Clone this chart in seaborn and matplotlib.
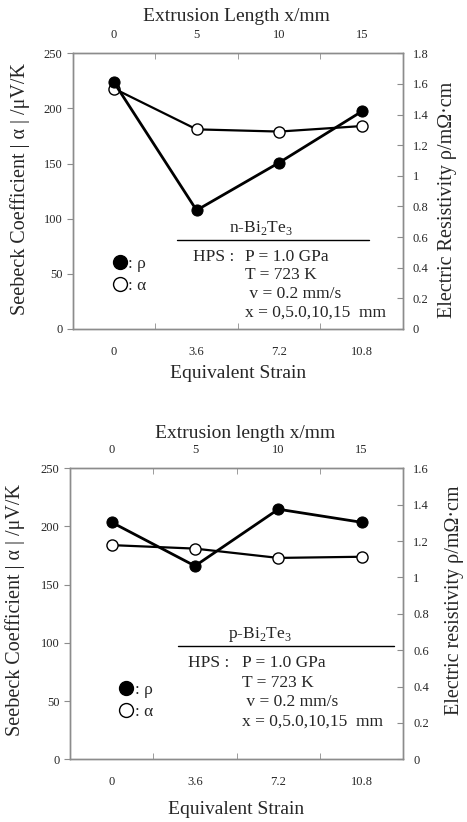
import matplotlib
matplotlib.use('Agg')
import matplotlib.pyplot as plt
from matplotlib.lines import Line2D
from matplotlib.ticker import FixedLocator, FuncFormatter
import seaborn as sns
import pandas as pd
import numpy as np

# shared categories
extrusion_mm = ['0', '5', '10', '15']
strain = ['0', '3.6', '7.2', '10.8']

# n-type panel
n_alpha = [218, 181, 179, 184]        # Seebeck |alpha| uV/K (left axis)
n_rho = [1.61, 0.775, 1.086, 1.42]    # resistivity mOhm cm (right axis)

# p-type panel
p_alpha = [184, 181, 173, 174]
p_rho = [1.303, 1.063, 1.375, 1.303]

sns.set_style('ticks')
plt.rcParams['font.family'] = ['Liberation Serif', 'DejaVu Serif']
plt.rcParams['mathtext.fontset'] = 'custom'
plt.rcParams['mathtext.rm'] = 'Liberation Serif'

SPINE = '#8c8c8c'
TICK_FS = 9
LABEL_FS = 14
NOTE_FS = 12.5


def draw_panel(ax, alpha, rho, rho_max, top_label, right_label, material,
               lab):
    x = np.arange(len(strain))
    df = pd.DataFrame({'x': x, 'alpha': alpha, 'rho': rho})
    ax2 = ax.twinx()

    sns.lineplot(data=df, x='x', y='alpha', ax=ax, color='black', lw=1.6,
                 marker='o', markersize=8, markerfacecolor='white',
                 markeredgecolor='black', markeredgewidth=1.0, zorder=3)
    sns.lineplot(data=df, x='x', y='rho', ax=ax2, color='black', lw=2.0,
                 marker='o', markersize=8, markerfacecolor='black',
                 markeredgecolor='black', zorder=3)

    ax.set_xlim(-0.5, len(strain) - 0.5)
    ax.set_ylim(0, 250)
    ax.set_yticks(np.arange(0, 251, 50))
    ax2.set_ylim(0, rho_max)
    ax2.set_yticks(np.arange(0, rho_max + 0.01, 0.2))
    ax2.yaxis.set_major_formatter(FuncFormatter(lambda v, p: f'{v:g}'))

    # categories at centres, tick marks between categories
    ax.set_xticks(x)
    ax.set_xticklabels(strain)
    ax.xaxis.set_minor_locator(FixedLocator(x[:-1] + 0.5))
    ax.tick_params(axis='x', which='major', length=0, pad=lab['xpad'],
                   labelsize=TICK_FS)
    ax.tick_params(axis='x', which='minor', length=4, direction='in',
                   top=True, color=SPINE)
    ax.tick_params(axis='y', length=4, direction='out', color=SPINE,
                   labelsize=TICK_FS)
    ax2.tick_params(axis='y', length=4, direction='in', color=SPINE,
                    labelsize=TICK_FS, pad=7)

    secx = ax.secondary_xaxis('top')
    secx.set_xticks(x)
    secx.set_xticklabels(extrusion_mm)
    secx.tick_params(length=0, labelsize=TICK_FS, pad=lab['toppad'])
    secx.spines['top'].set_visible(False)

    for a in (ax, ax2):
        for s in a.spines.values():
            s.set_color(SPINE)
            s.set_linewidth(1.0)

    ax.set_xlabel('')
    ax.set_ylabel('')
    ax2.set_ylabel('')
    tr = ax.transAxes
    ax.text(*lab['top'], top_label, transform=tr, ha='center', va='center',
            fontsize=LABEL_FS)
    ax.text(*lab['bottom'], 'Equivalent Strain', transform=tr, ha='center',
            va='center', fontsize=LABEL_FS)
    ax.text(*lab['left'], 'Seebeck Coefficient | α | /μV/K', transform=tr,
            ha='center', va='center', rotation=90, fontsize=14.5)
    ax.text(*lab['right'], right_label, transform=tr, ha='center',
            va='center', rotation=90, fontsize=14.5)

    # material label with rule
    ax.text(lab['mat'][0], lab['mat'][1], material, transform=tr,
            ha='center', va='center', fontsize=NOTE_FS)
    ax.plot(lab['rule'][0], [lab['rule'][1]] * 2, transform=tr,
            color='black', lw=1.0)
    ax.text(lab['hps'][0], lab['hps'][1], 'HPS :', transform=tr,
            ha='left', va='center', fontsize=NOTE_FS)
    cond = ['P = 1.0 GPa', 'T = 723 K', ' v = 0.2 mm/s', 'x = 0,5.0,10,15  mm']
    for i, c in enumerate(cond):
        ax.text(lab['cond_x'], lab['hps'][1] - i * lab['step'], c,
                transform=tr, ha='left', va='center', fontsize=NOTE_FS)

    handles = [
        Line2D([], [], ls='none', marker='o', ms=10, mfc='black', mec='black'),
        Line2D([], [], ls='none', marker='o', ms=10, mfc='white', mec='black'),
    ]
    ax.legend(handles, [': ρ', ': α'], loc='center', frameon=False,
              bbox_to_anchor=lab['legend'], handlelength=0.6,
              handletextpad=0.2, labelspacing=0.3, fontsize=NOTE_FS,
              borderaxespad=0)
    ax2.set_zorder(ax.get_zorder() + 1)
    ax2.patch.set_visible(False)
    return ax2


fig = plt.figure(figsize=(4.67, 8.22), dpi=100)
ax_n = fig.add_axes([0.1557, 0.5998, 0.7073, 0.3354])
ax_p = fig.add_axes([0.1499, 0.0763, 0.7137, 0.3540])

draw_panel(ax_n, n_alpha, n_rho, 1.8, 'Extrusion Length x/mm',
           'Electric Resistivity ρ/mΩ·cm', r'n-Bi$_2$Te$_3$',
           dict(xpad=12, toppad=9, top=(0.497, 1.135), bottom=(0.50, -0.16),
                left=(-0.16, 0.508), right=(1.135, 0.47),
                mat=(0.57, 0.365), rule=([0.315, 0.897], 0.322),
                hps=(0.364, 0.262), cond_x=0.522, step=0.068,
                legend=(0.175, 0.196)))
draw_panel(ax_p, p_alpha, p_rho, 1.6, 'Extrusion length x/mm',
           'Electric resistivity ρ/mΩ·cm', r'p-Bi$_2$Te$_3$',
           dict(xpad=12, toppad=9, top=(0.525, 1.12), bottom=(0.498, -0.174),
                left=(-0.165, 0.513), right=(1.155, 0.547),
                mat=(0.57, 0.43), rule=([0.324, 0.972], 0.389),
                hps=(0.354, 0.33), cond_x=0.516, step=0.067,
                legend=(0.2, 0.2)))

fig.savefig('out.png', dpi=100)
